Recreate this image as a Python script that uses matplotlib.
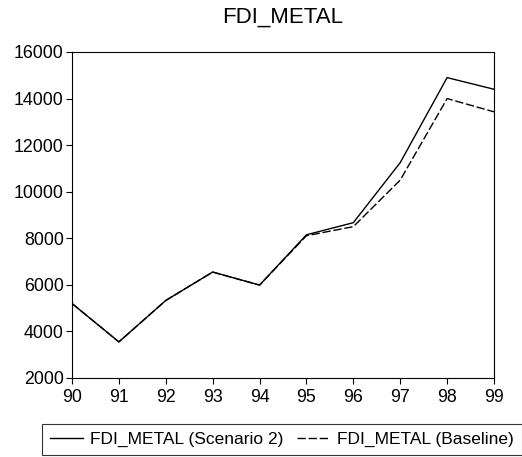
import matplotlib
matplotlib.use("Agg")
import matplotlib.pyplot as plt

# данные серий (годы 1990-1999)
years = [90, 91, 92, 93, 94, 95, 96, 97, 98, 99]
scenario2 = [5200, 3550, 5330, 6550, 5990, 8150, 8670, 11250, 14900, 14400]
baseline = [5200, 3550, 5330, 6550, 5990, 8110, 8500, 10500, 14000, 13430]
yticks = [2000, 4000, 6000, 8000, 10000, 12000, 14000, 16000]

plt.rcParams['font.family'] = ['Liberation Sans', 'DejaVu Sans']

fig = plt.figure(figsize=(5.22, 4.57), dpi=100)
ax = fig.add_axes([72 / 522, 1 - 378 / 457, (494 - 72) / 522, (378 - 52) / 457])

ax.plot(years, scenario2, color='black', lw=1.0, label='FDI_METAL (Scenario 2)')
ax.plot(years, baseline, color='black', lw=1.0, dashes=(6, 2),
        label='FDI_METAL (Baseline)')

ax.set_xlim(90, 99)
ax.set_ylim(2000, 16000)
ax.set_xticks(years)
ax.set_yticks(yticks)
ax.tick_params(direction='out', length=4, width=0.8, labelsize=12.8,
               top=False, right=False)
ax.tick_params(axis='y', pad=2)
ax.tick_params(axis='x', pad=4)
for s in ax.spines.values():
    s.set_linewidth(0.8)

ax.set_title('FDI_METAL', fontsize=16, pad=21)

leg = fig.legend(loc='lower center', bbox_to_anchor=(282 / 522, 0.0), ncol=2,
                 frameon=True, fancybox=False, edgecolor='black', fontsize=12.5,
                 handlelength=1.9, handletextpad=0.4, columnspacing=0.8,
                 borderpad=0.45, borderaxespad=0.1)
leg.get_frame().set_linewidth(0.8)

fig.savefig('out.png', dpi=100)
